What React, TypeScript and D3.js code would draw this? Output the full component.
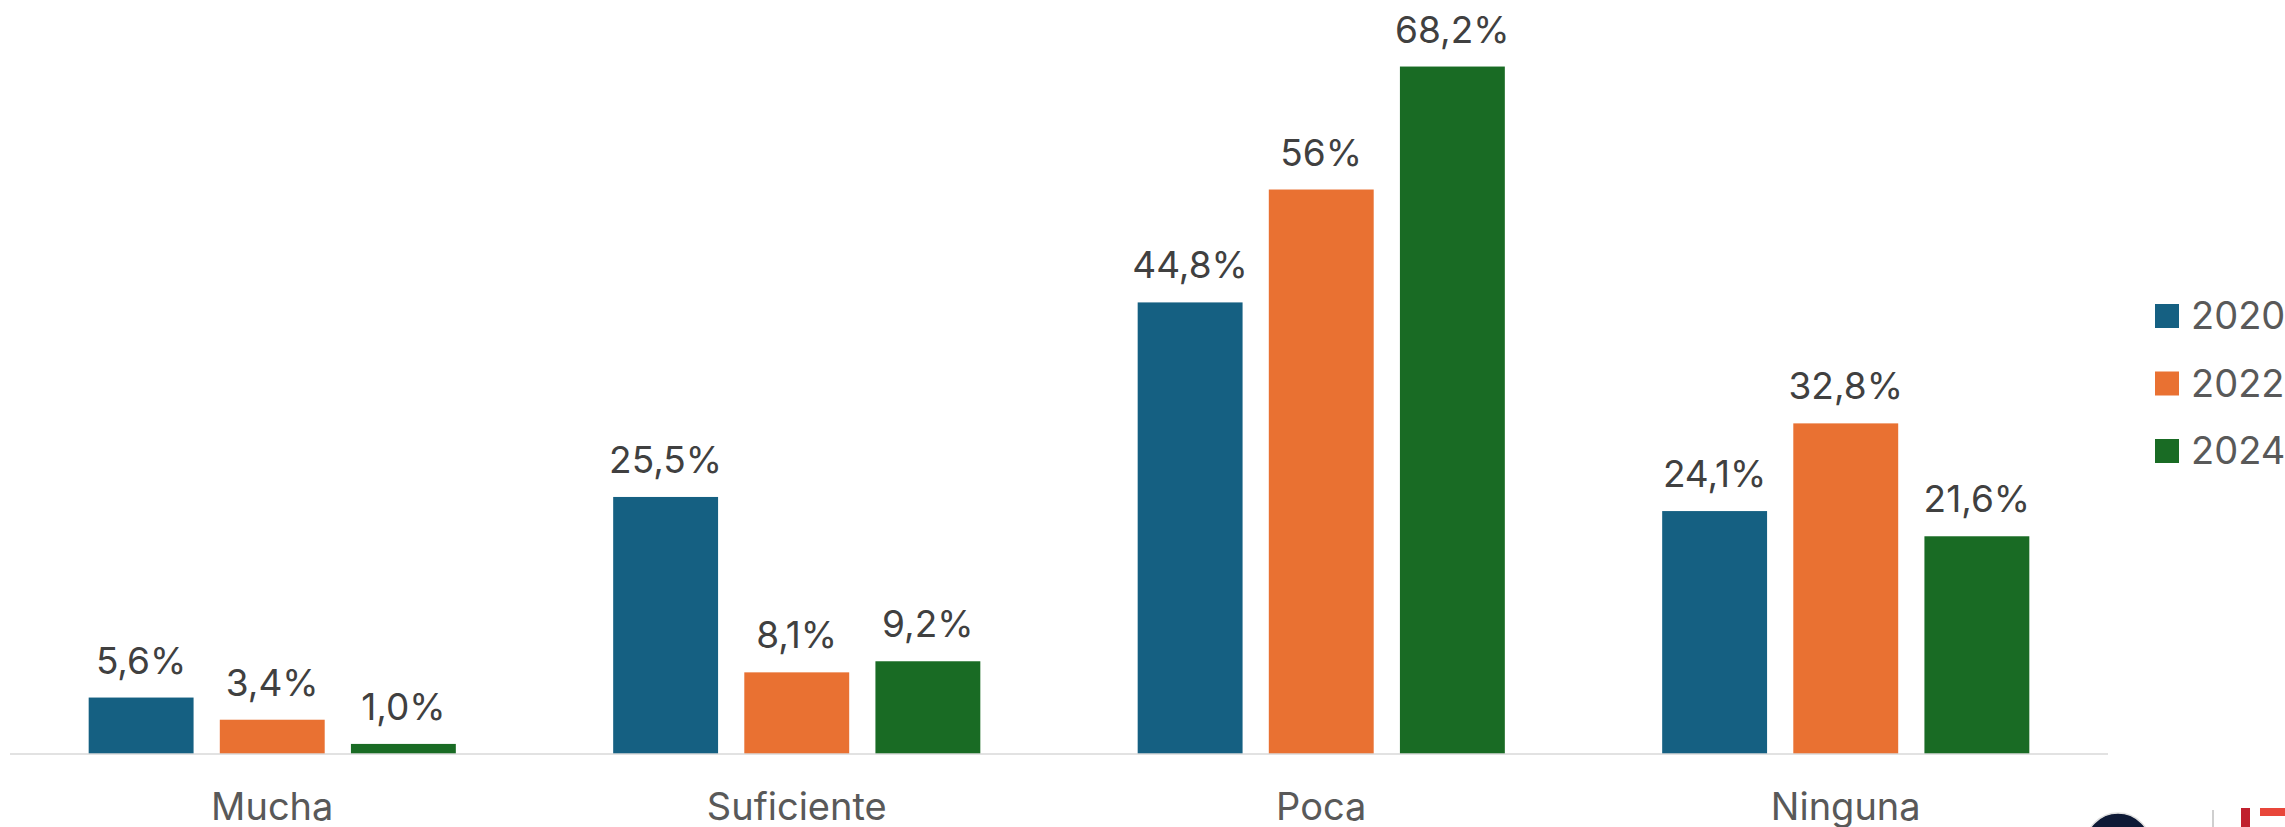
import React from "react";
import * as d3 from "d3";

const categories = ["Mucha", "Suficiente", "Poca", "Ninguna"];
const series = ["2020", "2022", "2024"];
const values2020 = [5.6, 25.5, 44.8, 24.1];
const values2022 = [3.4, 8.1, 56, 32.8];
const values2024 = [1.0, 9.2, 68.2, 21.6];
const labels2020 = ["5,6%", "25,5%", "44,8%", "24,1%"];
const labels2022 = ["3,4%", "8,1%", "56%", "32,8%"];
const labels2024 = ["1,0%", "9,2%", "68,2%", "21,6%"];
const colors = ["#156082", "#E97132", "#196B24"];

const W = 2285;
const H = 827;
const FONT = "Inter, 'Open Sans', sans-serif";

export default function App() {
  const vals = [values2020, values2022, values2024];
  const labs = [labels2020, labels2022, labels2024];
  const baseY = 754;
  const x0 = d3.scaleBand<string>().domain(categories).range([10, 2108]).paddingInner(0).paddingOuter(0);
  const x1 = d3
    .scaleBand<string>()
    .domain(series)
    .range([0, x0.bandwidth()])
    .paddingInner(0.2)
    .paddingOuter(0.6);
  const y = d3.scaleLinear().domain([0, 75]).range([baseY, baseY - 75 * 10.08]);

  return (
    <svg
      width={W}
      height={H}
      style={{ position: "absolute", left: 0, top: 0, background: "#fff" }}
      xmlns="http://www.w3.org/2000/svg"
    >
      <rect x={0} y={0} width={W} height={H} fill="#fff" />
      {categories.map((c, ci) => (
        <g key={c} transform={`translate(${x0(c)},0)`}>
          {series.map((s, si) => {
            const v = vals[si][ci];
            const bx = x1(s)!;
            const by = y(v);
            return (
              <g key={s}>
                <rect x={bx} y={by} width={x1.bandwidth()} height={baseY - by} fill={colors[si]} />
                <text
                  x={bx + x1.bandwidth() / 2}
                  y={by - 24}
                  textAnchor="middle"
                  fontFamily={FONT}
                  fontSize={37}
                  fill="#404040"
                >
                  {labs[si][ci]}
                </text>
              </g>
            );
          })}
          <text
            x={x0.bandwidth() / 2}
            y={820}
            textAnchor="middle"
            fontFamily={FONT}
            fontSize={38}
            fill="#595959"
          >
            {c}
          </text>
        </g>
      ))}
      <line x1={10} x2={2108} y1={baseY} y2={baseY} stroke="#D9D9D9" strokeWidth={1.5} />
      {series.map((s, si) => (
        <g key={s} transform={`translate(2155,${304 + si * 67.5})`}>
          <rect x={0} y={0} width={24} height={24} fill={colors[si]} />
          <text x={36} y={25} fontFamily={FONT} fontSize={38} fill="#595959">
            {s}
          </text>
        </g>
      ))}
      {/* partial logo at bottom right */}
      <circle cx={2118} cy={846} r={33} fill="#0E1A36" stroke="#E0E0E0" strokeWidth={1.5} />
      <line x1={2213} x2={2213} y1={810} y2={827} stroke="#BFBFBF" strokeWidth={1.5} />
      <rect x={2241} y={808} width={9} height={19} fill="#C0202E" />
      <rect x={2260} y={808} width={25} height={8} fill="#E8463A" />
    </svg>
  );
}
